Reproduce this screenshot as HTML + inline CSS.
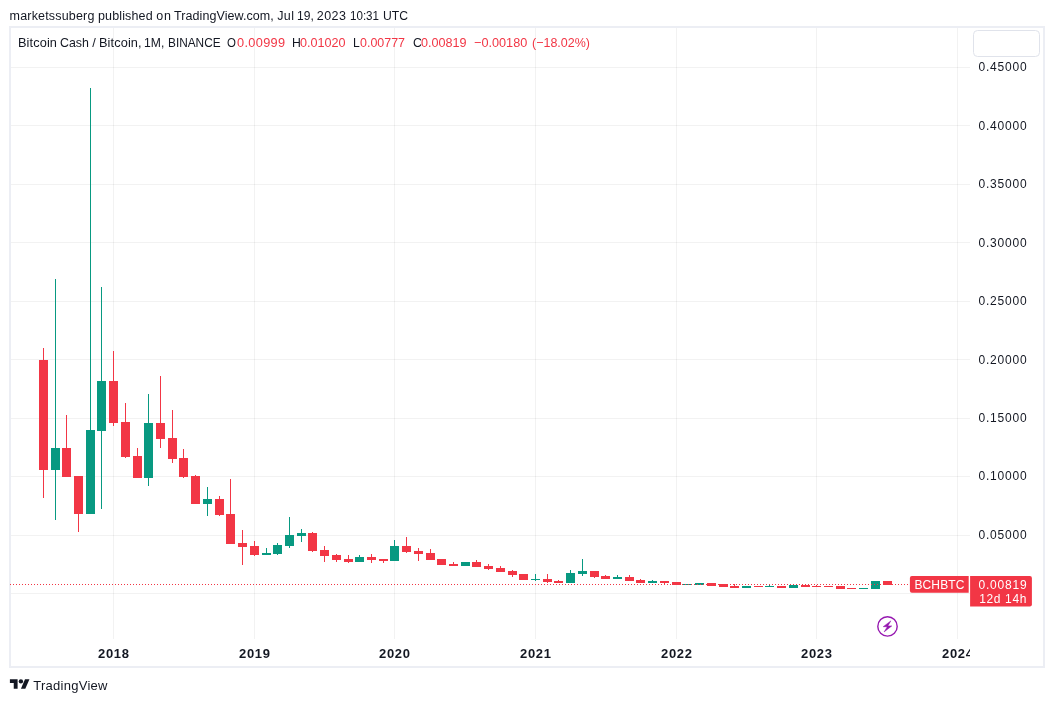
<!DOCTYPE html>
<html><head><meta charset="utf-8"><title>BCHBTC chart</title>
<style>
html,body{margin:0;padding:0;background:#fff}
body{width:1054px;height:702px;position:relative;overflow:hidden;font-family:"Liberation Sans", sans-serif;color:#131722}
.frame{position:absolute;left:9px;top:26px;width:1036px;height:642px;box-sizing:border-box;border:2px solid #eceef4}
svg.c{position:absolute;left:0;top:0}
.w{position:absolute;white-space:pre;line-height:20px;transform-origin:0 50%}
.tax{position:absolute;left:11px;top:639px;width:958.8px;height:27px;overflow:hidden}
</style></head><body>
<div class="frame"></div>
<svg class="c" width="1054" height="702" viewBox="0 0 1054 702" >
<rect x="11" y="593" width="959" height="1" fill="rgba(30,34,40,0.06)"/>
<rect x="11" y="535" width="959" height="1" fill="rgba(30,34,40,0.06)"/>
<rect x="11" y="476" width="959" height="1" fill="rgba(30,34,40,0.06)"/>
<rect x="11" y="418" width="959" height="1" fill="rgba(30,34,40,0.06)"/>
<rect x="11" y="359" width="959" height="1" fill="rgba(30,34,40,0.06)"/>
<rect x="11" y="301" width="959" height="1" fill="rgba(30,34,40,0.06)"/>
<rect x="11" y="242" width="959" height="1" fill="rgba(30,34,40,0.06)"/>
<rect x="11" y="184" width="959" height="1" fill="rgba(30,34,40,0.06)"/>
<rect x="11" y="125" width="959" height="1" fill="rgba(30,34,40,0.06)"/>
<rect x="11" y="67" width="959" height="1" fill="rgba(30,34,40,0.06)"/>
<rect x="113" y="28" width="1" height="611" fill="rgba(30,34,40,0.06)"/>
<rect x="254" y="28" width="1" height="611" fill="rgba(30,34,40,0.06)"/>
<rect x="394" y="28" width="1" height="611" fill="rgba(30,34,40,0.06)"/>
<rect x="535" y="28" width="1" height="611" fill="rgba(30,34,40,0.06)"/>
<rect x="676" y="28" width="1" height="611" fill="rgba(30,34,40,0.06)"/>
<rect x="816" y="28" width="1" height="611" fill="rgba(30,34,40,0.06)"/>
<rect x="957" y="28" width="1" height="611" fill="rgba(30,34,40,0.06)"/>
<rect x="43" y="348" width="1" height="150" fill="#f23645"/>
<rect x="39" y="360" width="9" height="110" fill="#f23645"/>
<rect x="55" y="279" width="1" height="241" fill="#089981"/>
<rect x="51" y="448" width="9" height="22" fill="#089981"/>
<rect x="66" y="415" width="1" height="62" fill="#f23645"/>
<rect x="62" y="448" width="9" height="29" fill="#f23645"/>
<rect x="78" y="476" width="1" height="56" fill="#f23645"/>
<rect x="74" y="476" width="9" height="38" fill="#f23645"/>
<rect x="90" y="88" width="1" height="426" fill="#089981"/>
<rect x="86" y="430" width="9" height="84" fill="#089981"/>
<rect x="101" y="287" width="1" height="222" fill="#089981"/>
<rect x="97" y="381" width="9" height="50" fill="#089981"/>
<rect x="113" y="351" width="1" height="75" fill="#f23645"/>
<rect x="109" y="381" width="9" height="42" fill="#f23645"/>
<rect x="125" y="403" width="1" height="55" fill="#f23645"/>
<rect x="121" y="422" width="9" height="35" fill="#f23645"/>
<rect x="137" y="448" width="1" height="30" fill="#f23645"/>
<rect x="133" y="456" width="9" height="22" fill="#f23645"/>
<rect x="148" y="394" width="1" height="92" fill="#089981"/>
<rect x="144" y="423" width="9" height="55" fill="#089981"/>
<rect x="160" y="376" width="1" height="72" fill="#f23645"/>
<rect x="156" y="423" width="9" height="16" fill="#f23645"/>
<rect x="172" y="410" width="1" height="53" fill="#f23645"/>
<rect x="168" y="438" width="9" height="21" fill="#f23645"/>
<rect x="183" y="449" width="1" height="29" fill="#f23645"/>
<rect x="179" y="458" width="9" height="19" fill="#f23645"/>
<rect x="195" y="475" width="1" height="29" fill="#f23645"/>
<rect x="191" y="476" width="9" height="28" fill="#f23645"/>
<rect x="207" y="487" width="1" height="29" fill="#089981"/>
<rect x="203" y="499" width="9" height="5" fill="#089981"/>
<rect x="219" y="496" width="1" height="20" fill="#f23645"/>
<rect x="215" y="499" width="9" height="16" fill="#f23645"/>
<rect x="230" y="479" width="1" height="65" fill="#f23645"/>
<rect x="226" y="514" width="9" height="30" fill="#f23645"/>
<rect x="242" y="530" width="1" height="35" fill="#f23645"/>
<rect x="238" y="543" width="9" height="4" fill="#f23645"/>
<rect x="254" y="541" width="1" height="15" fill="#f23645"/>
<rect x="250" y="546" width="9" height="9" fill="#f23645"/>
<rect x="266" y="548" width="1" height="7" fill="#089981"/>
<rect x="262" y="553" width="9" height="2" fill="#089981"/>
<rect x="277" y="543" width="1" height="12" fill="#089981"/>
<rect x="273" y="545" width="9" height="9" fill="#089981"/>
<rect x="289" y="517" width="1" height="31" fill="#089981"/>
<rect x="285" y="535" width="9" height="11" fill="#089981"/>
<rect x="301" y="529" width="1" height="13" fill="#089981"/>
<rect x="297" y="533" width="9" height="3" fill="#089981"/>
<rect x="312" y="532" width="1" height="20" fill="#f23645"/>
<rect x="308" y="533" width="9" height="18" fill="#f23645"/>
<rect x="324" y="546" width="1" height="16" fill="#f23645"/>
<rect x="320" y="550" width="9" height="6" fill="#f23645"/>
<rect x="336" y="554" width="1" height="8" fill="#f23645"/>
<rect x="332" y="555" width="9" height="5" fill="#f23645"/>
<rect x="348" y="555" width="1" height="8" fill="#f23645"/>
<rect x="344" y="559" width="9" height="3" fill="#f23645"/>
<rect x="359" y="555" width="1" height="7" fill="#089981"/>
<rect x="355" y="557" width="9" height="5" fill="#089981"/>
<rect x="371" y="554" width="1" height="9" fill="#f23645"/>
<rect x="367" y="557" width="9" height="3" fill="#f23645"/>
<rect x="383" y="559" width="1" height="4" fill="#f23645"/>
<rect x="379" y="559" width="9" height="2" fill="#f23645"/>
<rect x="394" y="540" width="1" height="21" fill="#089981"/>
<rect x="390" y="546" width="9" height="15" fill="#089981"/>
<rect x="406" y="537" width="1" height="16" fill="#f23645"/>
<rect x="402" y="546" width="9" height="6" fill="#f23645"/>
<rect x="418" y="548" width="1" height="13" fill="#f23645"/>
<rect x="414" y="551" width="9" height="3" fill="#f23645"/>
<rect x="430" y="549" width="1" height="11" fill="#f23645"/>
<rect x="426" y="553" width="9" height="7" fill="#f23645"/>
<rect x="437" y="559" width="9" height="6" fill="#f23645"/>
<rect x="453" y="562" width="1" height="4" fill="#f23645"/>
<rect x="449" y="564" width="9" height="2" fill="#f23645"/>
<rect x="461" y="562" width="9" height="4" fill="#089981"/>
<rect x="476" y="560" width="1" height="7" fill="#f23645"/>
<rect x="472" y="562" width="9" height="5" fill="#f23645"/>
<rect x="488" y="564" width="1" height="6" fill="#f23645"/>
<rect x="484" y="566" width="9" height="3" fill="#f23645"/>
<rect x="500" y="566" width="1" height="6" fill="#f23645"/>
<rect x="496" y="568" width="9" height="4" fill="#f23645"/>
<rect x="512" y="570" width="1" height="7" fill="#f23645"/>
<rect x="508" y="571" width="9" height="4" fill="#f23645"/>
<rect x="519" y="574" width="9" height="6" fill="#f23645"/>
<rect x="535" y="574" width="1" height="7" fill="#089981"/>
<rect x="531" y="579" width="9" height="1" fill="#089981"/>
<rect x="547" y="574" width="1" height="9" fill="#f23645"/>
<rect x="543" y="579" width="9" height="3" fill="#f23645"/>
<rect x="558" y="580" width="1" height="3" fill="#f23645"/>
<rect x="554" y="581" width="9" height="2" fill="#f23645"/>
<rect x="570" y="570" width="1" height="13" fill="#089981"/>
<rect x="566" y="573" width="9" height="10" fill="#089981"/>
<rect x="582" y="559" width="1" height="17" fill="#089981"/>
<rect x="578" y="571" width="9" height="3" fill="#089981"/>
<rect x="594" y="571" width="1" height="7" fill="#f23645"/>
<rect x="590" y="571" width="9" height="6" fill="#f23645"/>
<rect x="605" y="575" width="1" height="4" fill="#f23645"/>
<rect x="601" y="576" width="9" height="3" fill="#f23645"/>
<rect x="617" y="575" width="1" height="4" fill="#089981"/>
<rect x="613" y="577" width="9" height="2" fill="#089981"/>
<rect x="629" y="575" width="1" height="6" fill="#f23645"/>
<rect x="625" y="577" width="9" height="4" fill="#f23645"/>
<rect x="640" y="579" width="1" height="4" fill="#f23645"/>
<rect x="636" y="580" width="9" height="3" fill="#f23645"/>
<rect x="652" y="580" width="1" height="3" fill="#089981"/>
<rect x="648" y="581" width="9" height="2" fill="#089981"/>
<rect x="664" y="581" width="1" height="3" fill="#f23645"/>
<rect x="660" y="581" width="9" height="2" fill="#f23645"/>
<rect x="672" y="582" width="9" height="3" fill="#f23645"/>
<rect x="683" y="584" width="9" height="1" fill="#089981"/>
<rect x="695" y="583" width="9" height="2" fill="#089981"/>
<rect x="707" y="583" width="9" height="3" fill="#f23645"/>
<rect x="719" y="584" width="9" height="3" fill="#f23645"/>
<rect x="734" y="584" width="1" height="4" fill="#f23645"/>
<rect x="730" y="586" width="9" height="2" fill="#f23645"/>
<rect x="742" y="586" width="9" height="2" fill="#089981"/>
<rect x="754" y="586" width="9" height="1" fill="#f23645"/>
<rect x="769" y="584" width="1" height="3" fill="#089981"/>
<rect x="765" y="586" width="9" height="1" fill="#089981"/>
<rect x="777" y="586" width="9" height="2" fill="#f23645"/>
<rect x="789" y="585" width="9" height="3" fill="#089981"/>
<rect x="801" y="585" width="9" height="2" fill="#f23645"/>
<rect x="816" y="585" width="1" height="2" fill="#f23645"/>
<rect x="812" y="586" width="9" height="1" fill="#f23645"/>
<rect x="824" y="586" width="9" height="1" fill="#f23645"/>
<rect x="836" y="586" width="9" height="3" fill="#f23645"/>
<rect x="847" y="588" width="9" height="1" fill="#f23645"/>
<rect x="859" y="588" width="9" height="1" fill="#089981"/>
<rect x="871" y="581" width="9" height="8" fill="#089981"/>
<rect x="883" y="581" width="9" height="4" fill="#f23645"/>
<line x1="10" y1="584.5" x2="910" y2="584.5" stroke="#f23645" stroke-width="1" stroke-dasharray="1 2"/>
<path d="M911.9,575.9 H968.7 V592.7 H911.9 A2,2 0 0 1 909.9,590.7 V577.9 A2,2 0 0 1 911.9,575.9 Z" fill="#f23645"/>
<path d="M970.1,575.9 H1029.9 A2,2 0 0 1 1031.9,577.9 V604.6 A2,2 0 0 1 1029.9,606.6 H970.1 V575.9 Z" fill="#f23645"/>
<rect x="973.5" y="30.5" width="66" height="26" rx="4" ry="4" fill="#fff" stroke="#e0e3eb" stroke-width="1"/>
<circle cx="887.5" cy="626.4" r="9.7" fill="none" stroke="#9618b0" stroke-width="1.4"/>
<path d="M890.8,620.9 L883.2,626.7 L887.3,626.7 L884.1,631.9 L891.8,625.9 L887.9,625.9 Z" fill="#9618b0" stroke="#9618b0" stroke-width="0.5" stroke-linejoin="round"/>
<g transform="translate(9.9,677.20) scale(0.55,0.525)" fill="#131722"><path d="M14 22H7V11H0V4h14v18z"/><circle cx="20" cy="8" r="4"/><path d="M28 22h-8l7.5-18h8L28 22z"/></g>
</svg>
<span class="w" style="left:9.59px;top:6.00px;font-size:12.5px;letter-spacing:0.177px;">marketssuberg</span>
<span class="w" style="left:98.04px;top:6.00px;font-size:12.5px;letter-spacing:0.130px;">published</span>
<span class="w" style="left:156.28px;top:6.00px;font-size:12.5px;letter-spacing:0.776px;">on</span>
<span class="w" style="left:174.01px;top:6.00px;font-size:12.5px;letter-spacing:0.078px;">TradingView.com,</span>
<span class="w" style="left:277.25px;top:6.00px;font-size:12.5px;letter-spacing:0.351px;">Jul</span>
<span class="w" style="left:296.74px;top:6.00px;font-size:12.5px;transform:scaleX(0.9643);">19,</span>
<span class="w" style="left:316.75px;top:6.00px;font-size:12.5px;letter-spacing:0.445px;">2023</span>
<span class="w" style="left:349.71px;top:6.00px;font-size:12.5px;transform:scaleX(0.9266);">10:31</span>
<span class="w" style="left:383.00px;top:6.00px;font-size:12.5px;transform:scaleX(0.9734);">UTC</span>
<span class="w" style="left:18.00px;top:33.00px;font-size:12.75px;letter-spacing:0.108px;">Bitcoin</span>
<span class="w" style="left:59.78px;top:33.00px;font-size:12.75px;transform:scaleX(0.9698);">Cash</span>
<span class="w" style="left:92.22px;top:33.00px;font-size:12.75px;letter-spacing:0.000px;">/</span>
<span class="w" style="left:99.00px;top:33.00px;font-size:12.75px;letter-spacing:0.110px;">Bitcoin,</span>
<span class="w" style="left:144.22px;top:33.00px;font-size:12.75px;transform:scaleX(0.9536);">1M,</span>
<span class="w" style="left:167.50px;top:33.00px;font-size:12.75px;transform:scaleX(0.9280);">BINANCE</span>
<span class="w" style="left:226.92px;top:33.00px;font-size:12.75px;transform:scaleX(0.8996);">O</span>
<span class="w" style="left:237.05px;top:33.00px;font-size:12.75px;color:#f23645;letter-spacing:0.319px;">0.00999</span>
<span class="w" style="left:291.76px;top:33.00px;font-size:12.75px;transform:scaleX(0.9598);">H</span>
<span class="w" style="left:300.39px;top:33.00px;font-size:12.75px;color:#f23645;transform:scaleX(0.9896);">0.01020</span>
<span class="w" style="left:353.26px;top:33.00px;font-size:12.75px;transform:scaleX(0.9487);">L</span>
<span class="w" style="left:360.40px;top:33.00px;font-size:12.75px;color:#f23645;transform:scaleX(0.9764);">0.00777</span>
<span class="w" style="left:412.91px;top:33.00px;font-size:12.75px;transform:scaleX(0.9716);">C</span>
<span class="w" style="left:421.39px;top:33.00px;font-size:12.75px;color:#f23645;transform:scaleX(0.9896);">0.00819</span>
<span class="w" style="left:474.30px;top:33.00px;font-size:12.75px;color:#f23645;transform:scaleX(0.9946);">−0.00180</span>
<span class="w" style="left:531.97px;top:33.00px;font-size:12.75px;color:#f23645;transform:scaleX(0.9799);">(−18.02%)</span>
<span class="w" style="left:978.44px;top:57.00px;font-size:12px;letter-spacing:0.814px;">0.45000</span>
<span class="w" style="left:978.44px;top:116.00px;font-size:12px;letter-spacing:0.814px;">0.40000</span>
<span class="w" style="left:978.44px;top:174.00px;font-size:12px;letter-spacing:0.814px;">0.35000</span>
<span class="w" style="left:978.44px;top:233.00px;font-size:12px;letter-spacing:0.814px;">0.30000</span>
<span class="w" style="left:978.44px;top:291.00px;font-size:12px;letter-spacing:0.814px;">0.25000</span>
<span class="w" style="left:978.44px;top:350.00px;font-size:12px;letter-spacing:0.814px;">0.20000</span>
<span class="w" style="left:978.44px;top:408.00px;font-size:12px;letter-spacing:0.814px;">0.15000</span>
<span class="w" style="left:978.44px;top:466.00px;font-size:12px;letter-spacing:0.814px;">0.10000</span>
<span class="w" style="left:978.44px;top:525.00px;font-size:12px;letter-spacing:0.814px;">0.05000</span>
<span class="w" style="left:914.40px;top:575.00px;font-size:12px;color:#fff;letter-spacing:0.157px;">BCHBTC</span>
<span class="w" style="left:978.44px;top:575.00px;font-size:12px;color:#fff;letter-spacing:0.796px;">0.00819</span>
<span class="w" style="left:979.21px;top:589.00px;font-size:12px;color:#fff;letter-spacing:0.639px;">12d 14h</span>
<span class="w" style="left:33.23px;top:676.00px;font-size:13px;letter-spacing:0.272px;">TradingView</span>
<div class="tax"><span class="w" style="left:87.07px;top:5.00px;font-size:13px;font-weight:700;letter-spacing:0.65px;">2018</span><span class="w" style="left:228.07px;top:5.00px;font-size:13px;font-weight:700;letter-spacing:0.65px;">2019</span><span class="w" style="left:368.07px;top:5.00px;font-size:13px;font-weight:700;letter-spacing:0.65px;">2020</span><span class="w" style="left:509.07px;top:5.00px;font-size:13px;font-weight:700;letter-spacing:0.65px;">2021</span><span class="w" style="left:650.07px;top:5.00px;font-size:13px;font-weight:700;letter-spacing:0.65px;">2022</span><span class="w" style="left:790.07px;top:5.00px;font-size:13px;font-weight:700;letter-spacing:0.65px;">2023</span><span class="w" style="left:931.07px;top:5.00px;font-size:13px;font-weight:700;letter-spacing:0.65px;">2024</span></div>
</body></html>
